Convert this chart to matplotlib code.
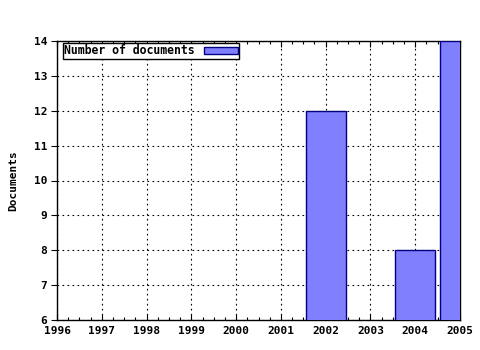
import matplotlib
matplotlib.use("Agg")
import matplotlib.pyplot as plt
import numpy as np

years = [2002, 2004, 2005]
docs = [12, 8, 14]
xticks = list(range(1996, 2006))
yticks = list(range(6, 15))

fig = plt.figure(figsize=(4.8, 3.5), dpi=100)
ax = fig.add_axes([57/480, 1-320/350, (460-57)/480, (320-41)/350])

ax.bar(years, docs, width=0.9, color="#8080ff", edgecolor="#000080", linewidth=1.0,
       label="Number of documents", zorder=3)

ax.set_xlim(1996, 2005)
ax.set_ylim(6, 14)
ax.set_xticks(xticks)
ax.set_yticks(yticks)
ax.set_xticks(np.arange(1996, 2005.01, 0.25), minor=True)
font = dict(family="DejaVu Sans Mono", weight="bold", size=8)
ax.set_xticklabels([str(v) for v in xticks], **font)
ax.set_yticklabels([str(v) for v in yticks], **font)
ax.tick_params(axis="x", which="both", direction="in", top=True, length=4, pad=4, width=0.8)
ax.tick_params(axis="x", which="minor", length=2)
ax.tick_params(axis="y", direction="out", length=4, pad=3, width=0.8)
ax.grid(True, which="major", color="black", linestyle=(0, (1.5, 3)), linewidth=0.8, zorder=0)
ax.set_axisbelow(True)
for s in ax.spines.values():
    s.set_linewidth(1.0)
ax.set_ylabel("Documents", **font, labelpad=11)

leg = ax.legend(loc="upper left", markerfirst=False, prop=dict(family="DejaVu Sans Mono", weight="bold", size=8.3),
                fancybox=False, framealpha=1, edgecolor="black", borderpad=0.1,
                handlelength=2.9, handleheight=0.6, bbox_to_anchor=(0.01, 1.0),
                borderaxespad=0.2, handletextpad=0.8)
leg.get_frame().set_linewidth(1.0)

fig.savefig("out.png", dpi=100)
